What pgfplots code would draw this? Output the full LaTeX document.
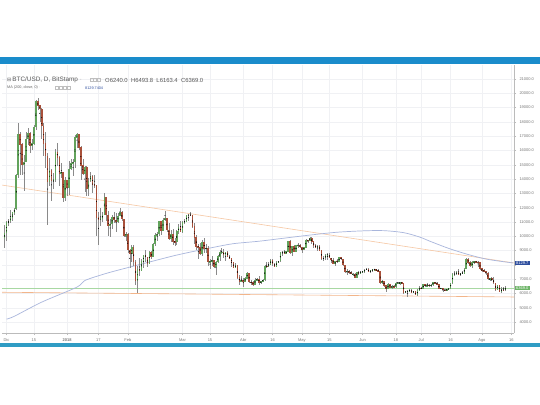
\documentclass[border=0pt]{standalone}
\usepackage{fontspec}
\setmainfont{Liberation Sans}
\newfontfamily\symfont{DejaVu Sans}
\usepackage{pgfplots}
\usepackage{pgfplotstable}
\pgfplotsset{compat=1.18}

\definecolor{topbar}{HTML}{1A8CCB}
\definecolor{botbar}{HTML}{2F9CC4}
\definecolor{gridc}{HTML}{F0F1F4}
\definecolor{axisc}{HTML}{BBBBBB}
\definecolor{labc}{HTML}{777777}
\definecolor{up}{HTML}{62A35C}
\definecolor{down}{HTML}{A8503A}
\definecolor{wick}{HTML}{8A8A8A}
\definecolor{mac}{HTML}{A9B6DC}
\definecolor{trendc}{HTML}{F6C7A3}
\definecolor{suppc}{HTML}{F2B58A}
\definecolor{pricec}{HTML}{A8D8A2}
\definecolor{mabox}{HTML}{2E4E9E}
\definecolor{pricebox}{HTML}{6CB466}

% daily candles, d = days since 1 Jan 2018
\pgfplotstableread{
d o h l c
-32 9900 10800 9200 10230
-31 10230 11050 9700 10975
-30 10975 11200 10700 11075
-29 11075 11850 10900 11320
-28 11320 11700 11100 11660
-27 11660 12000 11500 11920
-26 11920 14350 11850 14290
-25 14290 17900 14060 17100
-24 17100 17300 14300 16400
-23 16400 16500 14300 15000
-22 15000 15700 13150 15200
-21 15200 17300 15200 16800
-20 16800 17600 16400 17200
-19 17200 17300 15800 16300
-18 16300 16800 16000 16500
-17 16500 17800 16400 17650
-16 17650 19500 17400 19450
-15 19450 19670 18800 19150
-14 19150 19200 18000 18900
-13 18900 18950 16800 17700
-12 17700 17900 15600 16500
-11 16500 17300 14800 15600
-10 15600 15800 10800 13800
-9 13800 15500 13500 14600
-8 14600 14700 12500 13900
-7 13900 14400 13300 13950
-6 13950 16100 13800 15900
-5 15900 16500 14900 15500
-4 15500 15600 13500 14400
-3 14400 15100 14100 14500
-2 14500 14500 12400 12700
-1 12700 14150 12500 13900
0 13900 13950 12800 13400
1 13400 15250 12900 14700
2 14700 15400 14600 15100
3 15100 15400 14200 15200
4 15200 17100 14800 16900
5 16900 17250 16200 17100
6 17100 17100 16000 16200
7 16200 16300 13900 14950
8 14950 15400 14300 14400
9 14400 14900 13100 14800
10 14800 14900 12800 13300
11 13300 14100 12800 13850
12 13850 14500 13800 14200
13 14200 14300 13000 13600
14 13600 14300 13400 13580
15 13580 13600 10000 11300
16 11300 11700 9400 11150
17 11150 12000 10700 11250
18 11250 11700 11000 11500
19 11500 13000 11500 12750
20 12750 12750 11100 11500
21 11500 11800 10000 10750
22 10750 11200 9950 10850
23 10850 11500 10500 11350
24 11350 11700 10900 11150
25 11150 11600 10300 11000
26 11000 11600 10900 11420
27 11420 12000 11400 11700
28 11700 11750 11050 11200
29 11200 11200 9950 10050
30 10050 10300 9700 10150
31 10150 10200 8800 9050
32 9050 9100 7800 8800
33 8800 9400 8200 9200
34 9200 9400 7900 8200
35 8200 8350 6600 6900
36 6900 7900 6000 7700
37 7700 8500 7200 7600
38 7600 8400 7600 8250
39 8250 8700 7750 8650
40 8650 9050 8200 8550
41 8550 8550 7850 8100
42 8100 8950 8100 8900
43 8900 8950 8400 8550
44 8550 9500 8550 9450
45 9450 10250 9350 10050
46 10050 10300 9700 10150
47 10150 11100 10050 11050
48 11050 11100 10100 10400
49 10400 11250 10350 11150
50 11150 11800 11100 11250
51 11250 11300 10300 10450
52 10450 10900 9750 9850
53 9850 10450 9600 10150
54 10150 10500 9400 9650
55 9650 9900 9300 9600
56 9600 10450 9400 10350
57 10350 10850 10150 10600
58 10600 11050 10300 10350
59 10350 11050 10250 10950
60 10950 11200 10850 11050
61 11050 11500 11000 11450
62 11450 11550 11050 11500
63 11500 11700 11400 11450
64 11450 11450 10550 10700
65 10700 10900 9450 9900
66 9900 10100 9050 9300
67 9300 9450 8400 9250
68 9250 9500 8700 8800
69 8800 9750 8650 9550
70 9550 9900 8800 9150
71 9150 9450 8850 9150
72 9150 9350 7950 8200
73 8200 8400 7700 8250
74 8250 8600 7950 8300
75 8300 8350 7800 7850
76 7850 8300 7300 8200
77 8200 8700 8100 8600
78 8600 9050 8300 8900
79 8900 9150 8750 8900
80 8900 9100 8500 8700
81 8700 8900 8300 8900
82 8900 9000 8550 8550
83 8550 8700 8400 8450
84 8450 8500 7850 8150
85 8150 8200 7750 7800
86 7800 8100 7750 7950
87 7950 7950 7000 7100
88 7100 7300 6600 6850
89 6850 7200 6800 6950
90 6950 7050 6450 6820
91 6820 7150 6800 7050
92 7050 7500 7020 7420
93 7420 7430 6720 6800
94 6800 6950 6580 6770
95 6770 6850 6500 6620
96 6620 7050 6600 6900
97 6900 7100 6880 7020
98 7020 7200 6600 6770
99 6770 6880 6650 6830
100 6830 6980 6810 6940
101 6940 8000 6850 7900
102 7900 8200 7750 7880
103 7880 8200 7850 8000
104 8000 8400 8000 8350
105 8350 8400 7900 8050
106 8050 8150 7850 7900
107 7900 8250 7880 8150
108 8150 8300 8100 8270
109 8270 8920 8200 8850
110 8850 9000 8650 8900
111 8900 9050 8750 8800
112 8800 8950 8750 8930
113 8930 9700 8900 9650
114 9650 9750 8750 8850
115 8850 9300 8650 9280
116 9280 9380 8950 8950
117 8950 9400 8900 9350
118 9350 9500 9150 9400
119 9400 9450 9150 9240
120 9240 9250 8850 9070
121 9070 9250 9050 9220
122 9220 9780 9180 9740
123 9740 9750 9550 9690
124 9690 9950 9680 9850
125 9850 9970 9450 9650
126 9650 9660 9200 9370
127 9370 9470 9150 9200
128 9200 9370 8980 9320
129 9320 9380 9000 9020
130 9020 9020 8350 8420
131 8420 8620 8250 8480
132 8480 8750 8350 8700
133 8700 8850 8320 8700
134 8700 8830 8450 8480
135 8480 8500 8100 8350
136 8350 8470 8050 8070
137 8070 8280 7950 8250
138 8250 8380 8150 8240
139 8240 8550 8180 8520
140 8520 8550 8350 8400
141 8400 8420 7950 7980
142 7980 8000 7450 7500
143 7500 7700 7300 7580
144 7580 7650 7350 7470
145 7470 7600 7330 7350
146 7350 7400 7250 7360
147 7360 7450 7100 7120
148 7120 7530 7080 7480
149 7480 7550 7300 7400
150 7400 7600 7390 7500
151 7500 7600 7400 7530
152 7530 7700 7460 7640
153 7640 7760 7620 7710
154 7710 7750 7470 7500
155 7500 7660 7400 7630
156 7630 7700 7520 7660
157 7660 7740 7640 7680
158 7680 7700 7550 7620
159 7620 7690 7500 7520
160 7520 7520 6650 6780
161 6780 6920 6680 6880
162 6880 6900 6470 6550
163 6550 6620 6120 6300
164 6300 6700 6280 6640
165 6640 6670 6400 6400
166 6400 6560 6340 6500
167 6500 6580 6440 6450
168 6450 6800 6400 6720
169 6720 6830 6680 6740
170 6740 6800 6560 6760
171 6760 6780 6680 6710
172 6710 6720 5950 6050
173 6050 6200 6030 6130
174 6130 6250 5780 6150
175 6150 6330 6100 6250
176 6250 6290 6050 6080
177 6080 6180 6030 6130
178 6130 6160 5860 5880
179 5880 6300 5830 6200
180 6200 6500 6200 6390
181 6390 6430 6280 6350
182 6350 6680 6300 6630
183 6630 6660 6480 6510
184 6510 6750 6500 6590
185 6590 6690 6450 6550
186 6550 6630 6450 6600
187 6600 6800 6550 6760
188 6760 6790 6680 6710
189 6710 6800 6650 6660
190 6660 6690 6290 6310
191 6310 6400 6300 6380
192 6380 6390 6080 6230
193 6230 6340 6140 6220
194 6220 6310 6200 6260
195 6260 6390 6250 6340
196 6340 6740 6330 6720
197 6720 7450 6660 7320
198 7320 7580 7250 7360
199 7360 7560 7280 7460
200 7460 7680 7330 7340
201 7340 7440 7200 7400
202 7400 7580 7380 7400
203 7400 7800 7390 7720
204 7720 8480 7700 8400
205 8400 8480 8050 8170
206 8170 8300 7850 7930
207 7930 8250 7810 8180
208 8180 8230 8080 8220
209 8220 8280 8120 8210
210 8210 8260 7870 8170
211 8170 8170 7650 7730
212 7730 7760 7480 7610
213 7610 7700 7490 7540
214 7540 7550 7300 7420
215 7420 7500 6950 7010
216 7010 7090 6880 7040
217 7040 7150 6850 6940
218 6940 7150 6680 6720
219 6720 6730 6140 6280
220 6280 6620 6250 6540
221 6540 6580 6100 6150
222 6150 6480 6020 6250
223 6250 6450 6200 6240
224 6240 6494 6163 6369
}\btc

% 200-day moving average
\pgfplotstableread{
d ma
-31 4200
-27 4400
-13 5390
5 6440
9 6900
20 7400
32 7840
45 8300
55 8650
65 8950
75 9230
85 9480
98 9650
110 9850
124 10080
138 10280
152 10380
162 10390
172 10250
180 9950
186 9620
195 9150
205 8720
215 8380
228 8130
}\mavg

\pgfplotsset{
  candle/.style 2 args={only marks, mark=*, mark size=0.2pt,
    mark options={draw=none, fill=none}, forget plot,
    error bars/.cd, y dir=both, y explicit, error mark=none,
    error bar style={draw=#1, solid, line cap=butt, line width=#2}},
}

\begin{document}
\begin{tikzpicture}
\useasboundingbox (0,0) rectangle (540bp,405bp);
\fill[white] (0,0) rectangle (540bp,405bp);
\fill[topbar] (0,341bp) rectangle (540bp,348bp);
\fill[botbar] (0,58bp) rectangle (540bp,62bp);

\begin{axis}[
  at={(2bp,72bp)}, anchor=south west,
  width=512bp, height=268bp, scale only axis,
  xmin=-33.3, xmax=228.4, ymin=3230, ymax=21980,
  axis x line*=bottom, axis y line*=right,
  axis line style={axisc, line width=0.5bp},
  tick style={axisc, line width=0.4bp}, tick align=outside,
  major tick length=2bp,
  xtick={-31,-17,0,16,31,59,73,90,105,120,134,151,168,181,196,212,227},
  xticklabels={Dic,15,\textbf{2018},17,Feb,Mar,15,Abr,16,May,15,Jun,18,Jul,16,Ago,16},
  ytick={4000,5000,...,21000},
  yticklabels={4000.0,5000.0,6000.0,7000.0,,9000.0,10000.0,11000.0,12000.0,13000.0,14000.0,15000.0,16000.0,17000.0,18000.0,19000.0,20000.0,21000.0},
  scaled y ticks=false, scaled x ticks=false,
  tick label style={font=\fontsize{4}{5}\selectfont, text=labc},
  grid=major, grid style={gridc, line width=0.4bp},
  clip=true,
]
  % trend and support lines, current price line
  \addplot[trendc, line width=0.6bp] coordinates {(-33.3,13580) (228.4,8130)};
  \addplot[suppc, line width=0.6bp] coordinates {(-33.3,6080) (228.4,5750)};
  \addplot[pricec, line width=0.6bp] coordinates {(-33.3,6369) (228.4,6369)};
  \addplot[mac, line width=0.7bp, smooth] table[x=d, y=ma] {\mavg};

  % wicks
  \addplot[candle={wick}{0.45bp}]
    table[x=d, y expr={(\thisrow{h}+\thisrow{l})/2}, y error expr={(\thisrow{h}-\thisrow{l})/2}] {\btc};
  % up bodies
  \addplot[candle={up}{1.6bp}]
    table[x=d, y expr={\thisrow{c}>=\thisrow{o} ? (\thisrow{o}+\thisrow{c})/2 : nan},
      y error expr={abs(\thisrow{c}-\thisrow{o})/2+20}] {\btc};
  % down bodies
  \addplot[candle={down}{1.6bp}]
    table[x=d, y expr={\thisrow{c}<\thisrow{o} ? (\thisrow{o}+\thisrow{c})/2 : nan},
      y error expr={abs(\thisrow{c}-\thisrow{o})/2+20}] {\btc};

  \coordinate (mapos) at (axis cs:228.4,8129.7);
  \coordinate (pxpos) at (axis cs:228.4,6369);
\end{axis}

\node[fill=mabox, text=white, font=\fontsize{4}{5}\selectfont, inner sep=0.8bp, anchor=west, minimum width=15bp] at ([xshift=0.5bp]mapos) {8129.7};
\node[fill=pricebox, text=white, font=\fontsize{4}{5}\selectfont, inner sep=0.8bp, anchor=west, minimum width=15bp] at ([xshift=0.5bp]pxpos) {6369.0};

% header lines
\node[anchor=west, inner sep=0, text=black!65, font=\fontsize{6.4}{7}\selectfont] at (7bp,325bp)
  {{\symfont\fontsize{5}{6}\selectfont ⊟}\,BTC/USD, D, BitStamp\ \textcolor{black!35}{·}};
\foreach \i in {0,1,2} \draw[black!25, line width=0.3bp] (90bp+\i*3.5bp,323.5bp) rectangle ++(3bp,3bp);
\node[anchor=west, inner sep=0, text=black!65, font=\fontsize{5.9}{7}\selectfont] at (105bp,325bp)
  {O6240.0\ \ H6493.8\ \ L6163.4\ \ C6369.0};
\node[anchor=west, inner sep=0, text=black!60, font=\fontsize{3.8}{5}\selectfont] at (7bp,317bp)
  {MA (200, close, 0)\ \textcolor{black!35}{·}};
\foreach \i in {0,1,2,3} \draw[black!25, line width=0.3bp] (55bp+\i*4bp,315.6bp) rectangle ++(3bp,3bp);
\node[anchor=west, inner sep=0, text=mabox, font=\fontsize{3.8}{5}\selectfont] at (85bp,317bp) {8129.7404};
\end{tikzpicture}
\end{document}
